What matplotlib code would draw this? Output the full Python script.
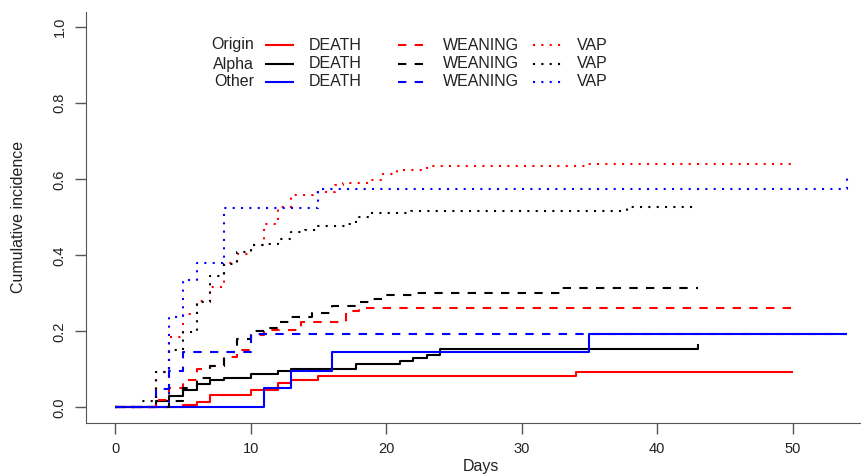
import matplotlib
matplotlib.use("Agg")
import matplotlib.pyplot as plt
from matplotlib.lines import Line2D

plt.rcParams['font.family'] = ['Liberation Sans', 'DejaVu Sans']

# Cumulative incidence step data (time, value)
groups = ['Origin', 'Alpha', 'Other']
events = ['DEATH', 'WEANING', 'VAP']
colors = {'Origin': 'red', 'Alpha': 'black', 'Other': 'blue'}

origin_death_t = [0, 5, 6, 7, 10, 12, 13, 15, 34, 50]
origin_death_y = [0, 0.007, 0.014, 0.033, 0.045, 0.065, 0.073, 0.083, 0.093, 0.093]
alpha_death_t = [0, 3, 4, 5, 6, 7, 8, 10, 12, 13, 17.8, 21, 22, 23, 24, 43, 43]
alpha_death_y = [0, 0.018, 0.029, 0.047, 0.062, 0.071, 0.077, 0.087, 0.096, 0.100, 0.115,
                 0.122, 0.131, 0.139, 0.154, 0.159, 0.166]
other_death_t = [0, 11, 13, 16, 35, 54]
other_death_y = [0, 0.05, 0.097, 0.145, 0.192, 0.192]

origin_wean_t = [0, 3, 4, 5, 6, 7, 8, 9, 10, 11, 13.7, 17, 18, 50]
origin_wean_y = [0, 0.02, 0.05, 0.073, 0.10, 0.11, 0.132, 0.15, 0.19, 0.203, 0.226, 0.255,
                 0.262, 0.262]
alpha_wean_t = [0, 4, 5, 6, 7, 8, 9, 10, 11, 12, 13, 14.5, 16, 17, 18, 19, 20, 22, 33, 43]
alpha_wean_y = [0, 0.018, 0.05, 0.077, 0.108, 0.146, 0.18, 0.20, 0.209, 0.224, 0.238,
                0.248, 0.266, 0.268, 0.277, 0.286, 0.295, 0.302, 0.314, 0.314]
other_wean_t = [0, 3, 4, 5, 10, 54]
other_wean_y = [0, 0.049, 0.097, 0.146, 0.192, 0.192]

origin_vap_t = [0, 3, 4, 5, 6, 7, 8, 9, 10, 11, 12, 13, 14.6, 16.2, 16.8, 18.8, 19.8,
                20.8, 23, 34.8, 50, 50]
origin_vap_y = [0, 0.093, 0.185, 0.247, 0.28, 0.318, 0.379, 0.404, 0.426, 0.482, 0.527,
                0.558, 0.567, 0.584, 0.59, 0.599, 0.615, 0.625, 0.634, 0.639, 0.639, 0.646]
alpha_vap_t = [0, 2, 3, 4, 5, 6, 7, 8, 9, 10, 11, 12, 13, 14, 15, 17, 17.8, 18.7, 21.8,
               37.8, 43]
alpha_vap_y = [0, 0.018, 0.093, 0.152, 0.198, 0.277, 0.347, 0.378, 0.41, 0.426, 0.43,
               0.444, 0.461, 0.466, 0.476, 0.483, 0.50, 0.512, 0.518, 0.527, 0.527]
other_vap_t = [0, 4, 5, 6, 8, 15, 54, 54]
other_vap_y = [0, 0.238, 0.336, 0.38, 0.525, 0.574, 0.574, 0.615]

curves = {
    ('Origin', 'DEATH'): (origin_death_t, origin_death_y),
    ('Alpha', 'DEATH'): (alpha_death_t, alpha_death_y),
    ('Other', 'DEATH'): (other_death_t, other_death_y),
    ('Origin', 'WEANING'): (origin_wean_t, origin_wean_y),
    ('Alpha', 'WEANING'): (alpha_wean_t, alpha_wean_y),
    ('Other', 'WEANING'): (other_wean_t, other_wean_y),
    ('Origin', 'VAP'): (origin_vap_t, origin_vap_y),
    ('Alpha', 'VAP'): (alpha_vap_t, alpha_vap_y),
    ('Other', 'VAP'): (other_vap_t, other_vap_y),
}

styles = {'DEATH': (0, ()), 'WEANING': (0, (4, 4)), 'VAP': (0, (1, 3))}

W, H = 862, 476
fig = plt.figure(figsize=(W / 100, H / 100), dpi=100)
# axes box in pixels (R-style, right side cropped off the picture)
ax = fig.add_axes([86 / W, (H - 422.7) / H, 790 / W, 410.7 / H])

for (g, e), (t, y) in curves.items():
    ax.step(t, y, where='post', color=colors[g], linestyle=styles[e], lw=1.5,
            solid_capstyle='butt', dash_capstyle='butt')

ax.set_xlim(-2.16, 56.16)
ax.set_ylim(-0.04, 1.04)
ax.set_xticks([0, 10, 20, 30, 40, 50])
ax.set_yticks([0, 0.2, 0.4, 0.6, 0.8, 1.0])
ax.set_yticklabels(['0.0', '0.2', '0.4', '0.6', '0.8', '1.0'], rotation=90, va='center')
ax.tick_params(direction='out', length=8, width=1, color='#555555',
               labelsize=10.5, labelcolor='#222222', pad=6)
for s in ['top', 'right']:
    ax.spines[s].set_visible(False)
for s in ['left', 'bottom']:
    ax.spines[s].set_color('#555555')
ax.set_xlabel('Days', fontsize=11.5, color='#222222', labelpad=2)
ax.set_ylabel('Cumulative incidence', fontsize=11.5, color='#222222', labelpad=19)

# legend built by hand: row title, then three (line, label) pairs
rows_y = [45, 64, 82]
col_line = [(265, 294), (398, 425), (533, 562)]
col_text = [309, 443, 577]
for gi, g in enumerate(groups):
    yy = 1 - rows_y[gi] / H
    fig.text(254 / W, yy, g, ha='right', va='center', fontsize=11.5, color='#222222')
    for ei, e in enumerate(events):
        x0, x1 = col_line[ei]
        fig.add_artist(Line2D([x0 / W, x1 / W], [yy, yy], color=colors[g],
                              linestyle=styles[e], lw=1.5, transform=fig.transFigure))
        fig.text(col_text[ei] / W, yy, e, ha='left', va='center', fontsize=11.5,
                 color='#222222')

fig.savefig('out.png', dpi=100)
